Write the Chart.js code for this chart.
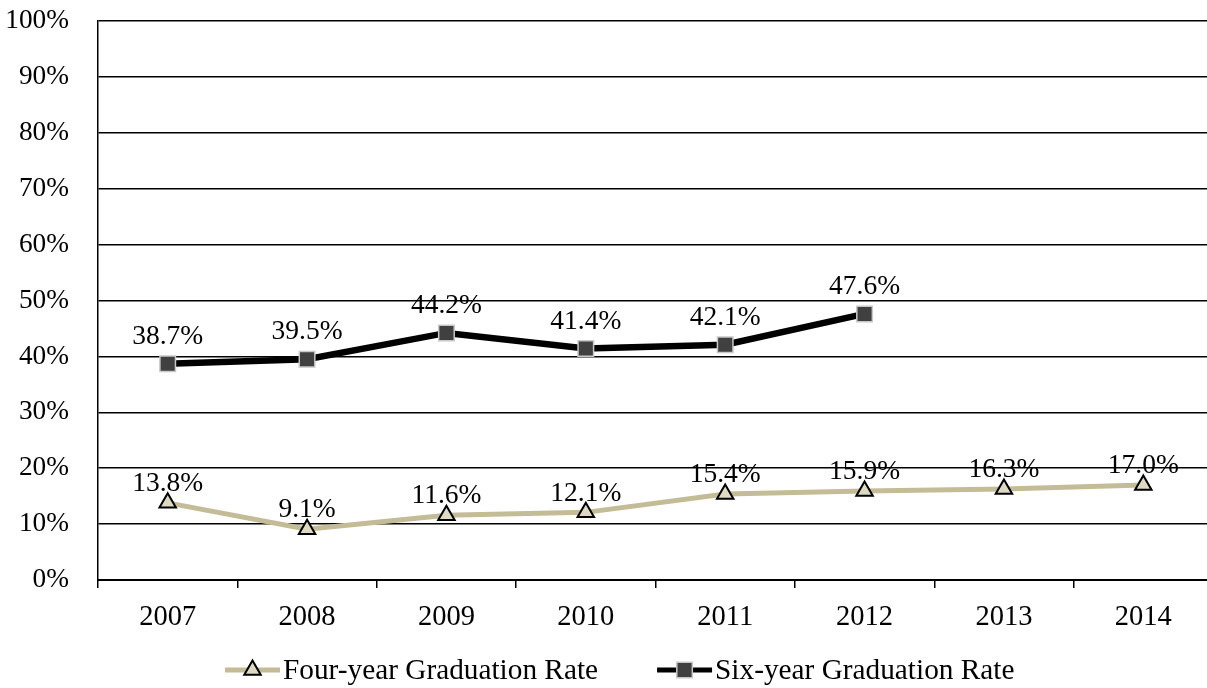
<!DOCTYPE html>
<html>
<head>
<meta charset="utf-8">
<script src="https://cdn.jsdelivr.net/npm/chart.js@4/dist/chart.umd.min.js"></script>
<style>
  html, body { margin: 0; padding: 0; background: #fff; overflow: hidden; }
  #wrap { width: 1207px; height: 688px; overflow: hidden; position: relative; }
  #c { position: absolute; left: 0; top: 0; }
</style>
</head>
<body>
<div id="wrap"><canvas id="c" width="1213" height="688"></canvas></div>
<script>
// Cohort years and graduation rates (percent)
const years = ['2007', '2008', '2009', '2010', '2011', '2012', '2013', '2014'];
const fourYearRate = [13.8, 9.1, 11.6, 12.1, 15.4, 15.9, 16.3, 17.0];
const sixYearRate = [38.7, 39.5, 44.2, 41.4, 42.1, 47.6, null, null];
const seriesNames = ['Four-year Graduation Rate', 'Six-year Graduation Rate'];

const FONT = '"Liberation Serif", "Times New Roman", serif';
const TAN = '#c4bc96';
const TAN_FILL = '#ddd9c3';

// Value labels above each point
const valueLabels = {
  id: 'valueLabels',
  afterDatasetsDraw(chart) {
    const ctx = chart.ctx;
    ctx.save();
    ctx.font = '27.5px ' + FONT;
    ctx.fillStyle = '#000';
    ctx.textAlign = 'center';
    ctx.textBaseline = 'middle';
    chart.data.datasets.forEach((ds, i) => {
      const meta = chart.getDatasetMeta(i);
      const lift = ds.labelLift;
      meta.data.forEach((pt, j) => {
        const v = ds.data[j];
        if (v === null || v === undefined) return;
        ctx.fillText(v.toFixed(1) + '%', pt.x, pt.y - lift);
      });
    });
    ctx.restore();
  }
};

function drawMarker(ctx, style, r, x, y) {
  if (style === 'rect') {
    const s = Math.SQRT1_2 * r;
    ctx.rect(x - s, y - s, 2 * s, 2 * s);
  } else {
    const a = Math.PI * 2 / 3;
    ctx.moveTo(x, y - r);
    ctx.lineTo(x + Math.sin(a) * r, y - Math.cos(a) * r);
    ctx.lineTo(x + Math.sin(2 * a) * r, y - Math.cos(2 * a) * r);
    ctx.closePath();
  }
}

// Legend below the axis: line sample with marker, then the series name
const lineLegend = {
  id: 'lineLegend',
  afterDraw(chart) {
    const ctx = chart.ctx;
    const y = 670;
    let x = 225;
    ctx.save();
    ctx.font = '29.3px ' + FONT;
    ctx.textBaseline = 'middle';
    ctx.textAlign = 'left';
    chart.data.datasets.forEach((ds) => {
      const seg = 55;
      ctx.strokeStyle = ds.borderColor;
      ctx.lineWidth = 5;
      ctx.beginPath();
      ctx.moveTo(x, y);
      ctx.lineTo(x + seg, y);
      ctx.stroke();
      ctx.fillStyle = ds.pointBackgroundColor;
      ctx.strokeStyle = ds.pointBorderColor;
      ctx.lineWidth = ds.pointBorderWidth;
      ctx.beginPath();
      drawMarker(ctx, ds.pointStyle, ds.pointRadius, x + seg / 2, y);
      ctx.fill();
      ctx.stroke();
      ctx.fillStyle = '#000';
      ctx.fillText(ds.label, x + seg + 3, y + 1);
      x += seg + 3 + ctx.measureText(ds.label).width + 59;
    });
    ctx.restore();
  }
};

new Chart(document.getElementById('c'), {
  type: 'line',
  data: {
    labels: years,
    datasets: [
      {
        label: seriesNames[0],
        data: fourYearRate,
        borderColor: TAN,
        borderWidth: 5,
        pointStyle: 'triangle',
        pointRadius: 9.5,
        pointBackgroundColor: TAN_FILL,
        pointBorderColor: '#000',
        pointBorderWidth: 2,
        labelLift: 19,
        tension: 0
      },
      {
        label: seriesNames[1],
        data: sixYearRate,
        borderColor: '#000',
        borderWidth: 6.5,
        pointStyle: 'rect',
        pointRadius: 11,
        pointBackgroundColor: '#404040',
        pointBorderColor: '#c8c8c8',
        pointBorderWidth: 1.5,
        labelLift: 27,
        tension: 0,
        spanGaps: false
      }
    ]
  },
  options: {
    responsive: false,
    animation: false,
    devicePixelRatio: 1,
    layout: { autoPadding: false, padding: { top: 21, right: 0, left: 0, bottom: 0 } },
    plugins: {
      legend: { display: false },
      tooltip: { enabled: false }
    },
    scales: {
      x: {
        type: 'category',
        offset: true,
        grid: {
          offset: true,
          drawOnChartArea: false,
          drawTicks: true,
          tickLength: 8,
          color: '#000',
          lineWidth: 1.5
        },
        border: { display: true, color: '#000', width: 2 },
        ticks: {
          color: '#000',
          font: { family: FONT, size: 28.5 },
          padding: 12,
          maxRotation: 0
        },
        afterFit(scale) { scale.height = 108; }
      },
      y: {
        min: 0,
        max: 100,
        ticks: {
          stepSize: 10,
          color: '#000',
          font: { family: FONT, size: 27.3 },
          padding: 0,
          callback: v => v + '%'
        },
        grid: {
          color: '#000',
          lineWidth: 1.5,
          drawTicks: true,
          tickLength: 29,
          tickColor: 'rgba(0,0,0,0)'
        },
        border: { display: true, color: '#000', width: 1.5 },
        afterFit(scale) { scale.width = 98; }
      }
    }
  },
  plugins: [valueLabels, lineLegend]
});
</script>
</body>
</html>
